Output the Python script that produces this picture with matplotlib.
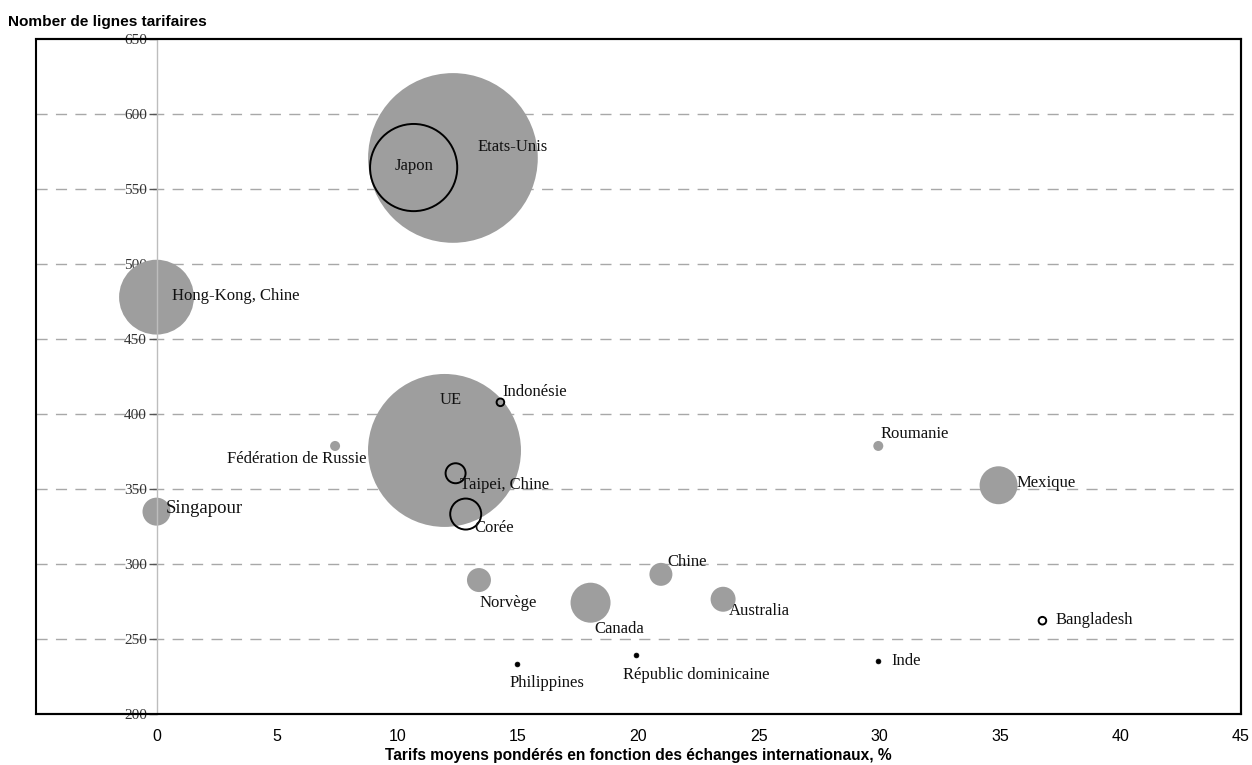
#!/usr/bin/env python3
"""
Bubble chart: number of tariff lines vs trade-weighted average tariffs.
"""

import matplotlib
matplotlib.use("Agg")
import matplotlib.pyplot as plt
from matplotlib.patches import Rectangle

# Data
countries = [
    "Etats-Unis", "Japon", "Hong-Kong, Chine", "UE", "Indonésie",
    "Fédération de Russie", "Taipei, Chine", "Corée", "Singapour",
    "Norvège", "Canada", "Chine", "Australia", "Philippines",
    "Républic dominicaine", "Roumanie", "Mexique", "Bangladesh", "Inde",
]
tariffs = [12.3, 10.67, 0.0, 11.95, 14.27,
           7.41, 12.41, 12.83, 0.0,
           13.38, 18.01, 20.93, 23.51, 14.96,
           19.88, 29.95, 34.94, 36.76, 29.95]
lines = [570.7, 564.3, 477.9, 375.7, 407.8,
         378.7, 360.5, 333.3, 334.9,
         289.3, 274.2, 293.1, 276.5, 233.1,
         239.1, 378.7, 352.5, 262.2, 235.3]
# relative bubble size (area)
volume = [72.0, 19.0, 14.0, 58.5, 0.09,
          0.25, 1.0, 2.4, 1.96,
          1.44, 4.0, 1.32, 1.56, 0.05,
          0.05, 0.25, 3.6, 0.05, 0.05]
# bubble style: 'fill' grey, 'ring' black outline, 'dot' small black
kind = ["fill", "ring", "fill", "fill", "ring",
        "fill", "ring", "ring", "fill",
        "fill", "fill", "fill", "fill", "dot",
        "dot", "fill", "fill", "ring", "dot"]

x_ticks = [0, 5, 10, 15, 20, 25, 30, 35, 40, 45]
y_ticks = [200, 250, 300, 350, 400, 450, 500, 550, 600, 650]

# label placement (offset in pixels from bubble centre, alignment, size)
label_style = {
    "Etats-Unis": (25, 11, "left", 12),
    "Japon": (0, 2, "center", 12),
    "Hong-Kong, Chine": (16, 1, "left", 12),
    "UE": (6, 50, "center", 12),
    "Indonésie": (2, 10, "left", 12),
    "Fédération de Russie": (31, -13, "right", 12),
    "Taipei, Chine": (4, -12, "left", 12),
    "Corée": (9, -14, "left", 12),
    "Singapour": (9, 3, "left", 13.5),
    "Norvège": (1, -23, "left", 12),
    "Canada": (4, -26, "left", 12),
    "Chine": (6, 12, "left", 12),
    "Australia": (6, -12, "left", 12),
    "Philippines": (-8, -19, "left", 12),
    "Républic dominicaine": (-13, -20, "left", 12),
    "Roumanie": (2, 12, "left", 12),
    "Mexique": (18, 2, "left", 12),
    "Bangladesh": (13, 1, "left", 12),
    "Inde": (13, 0, "left", 12),
}

GREY = "#9e9e9e"
SERIF = "Liberation Serif"
SANS = "Liberation Sans"

fig = plt.figure(figsize=(12.52, 7.65), dpi=100)
ax = fig.add_axes([36 / 1252, 51 / 765, 1205 / 1252, 675 / 765])

# size factor: px radius = 10*sqrt(volume); 1 px = 0.72 pt
def marker_area(v):
    return (2 * 10 * v ** 0.5 * 0.72) ** 2

for name, x, y, v, k in zip(countries, tariffs, lines, volume, kind):
    s = marker_area(v)
    if k == "fill":
        ax.scatter(x, y, s=s, color=GREY, edgecolors="none", zorder=2)
    elif k == "ring":
        if v < 0.2:
            s = 30
        ax.scatter(x, y, s=s, facecolors="none", edgecolors="black",
                   linewidths=1.4, zorder=3)
    else:
        ax.scatter(x, y, s=12, color="black", edgecolors="black",
                   linewidths=0.5, zorder=3)

for name, x, y in zip(countries, tariffs, lines):
    dx, dy, ha, fs = label_style[name]
    ax.annotate(name, (x, y), xytext=(dx, dy), textcoords="offset pixels",
                ha=ha, va="center", fontsize=fs, family=SERIF,
                color="#111111", zorder=4)

ax.set_xlim(-5, 45)
ax.set_ylim(200, 650)

# horizontal dashed grid
for yv in y_ticks[1:-1]:
    ax.axhline(yv, color="#a8a8a8", linewidth=1.0, linestyle=(0, (8, 6)),
               zorder=1)

# y axis sits at x = 0
ax.spines["left"].set_position(("data", 0))
ax.spines["left"].set_color("#bdbdbd")
ax.spines["left"].set_linewidth(1.0)
for side in ["top", "right", "bottom"]:
    ax.spines[side].set_color("black")
    ax.spines[side].set_linewidth(1.5)
ax.add_patch(Rectangle((0, 0), 1, 1, transform=ax.transAxes, fill=False,
                       edgecolor="black", linewidth=1.5, clip_on=False,
                       zorder=5))

ax.set_yticks(y_ticks)
ax.set_yticklabels([str(v) for v in y_ticks], family=SERIF, fontsize=11,
                   color="#333333")
ax.tick_params(axis="y", direction="out", length=6, width=1.0,
               color="#555555", pad=1)

ax.set_xticks(x_ticks)
ax.set_xticklabels([str(v) for v in x_ticks], family=SANS, fontsize=11.5)
ax.tick_params(axis="x", length=0, pad=11)

ax.set_xlabel("Tarifs moyens pondérés en fonction des échanges internationaux, %",
              family=SANS, fontsize=11.2, fontweight="bold", labelpad=3)
fig.text(8 / 1252, 1 - 22 / 765, "Nomber de lignes tarifaires", family=SANS,
         fontsize=11.1, fontweight="bold", va="center", ha="left")

fig.savefig("out.png", dpi=100)
